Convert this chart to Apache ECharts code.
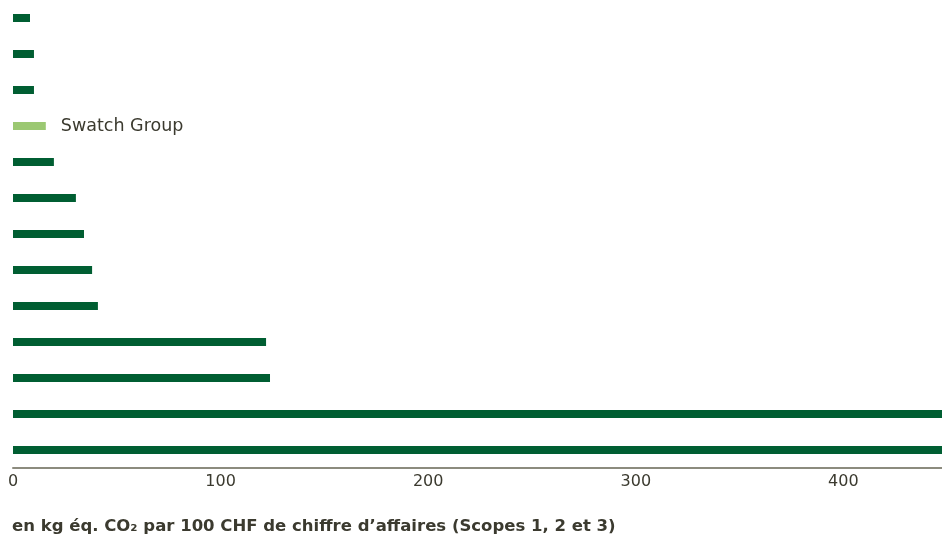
<!DOCTYPE html>
<html>
<head>
<meta charset="utf-8">
<script src="https://cdn.jsdelivr.net/npm/echarts@6/dist/echarts.min.js"></script>
<style>
  html, body { margin: 0; padding: 0; background: #fff; }
  #chart { width: 942px; height: 535px; }
</style>
</head>
<body>
<div id="chart"></div>
<script>
// companies top to bottom, only Swatch Group is labelled in the source
const companies = ['A', 'B', 'C', 'Swatch Group', 'D', 'E', 'F', 'G', 'H', 'I', 'J', 'K', 'L'];
const intensity = [8.2, 10.1, 10.1, 15.8, 19.7, 30.3, 34.2, 38.1, 40.9, 121.9, 123.8, 460, 470];
const highlight = 'Swatch Group';
const xTicks = [0, 100, 200, 300, 400];

const darkGreen = '#005e32';
const lightGreen = '#9bc872';
const textColor = '#3b3a2f';
const font = 'DejaVu Sans';

const chart = echarts.init(document.getElementById('chart'));

chart.setOption({
    animation: false,
    title: {
        text: 'en kg éq. CO₂ par 100 CHF de chiffre d’affaires (Scopes 1, 2 et 3)',
        left: 12,
        top: 518,
        padding: 0,
        textStyle: {
            fontFamily: font,
            fontSize: 16.5,
            fontWeight: 'bold',
            color: textColor
        }
    },
    grid: {
        left: 13,
        right: 0,
        top: -3,
        bottom: 67
    },
    xAxis: {
        type: 'value',
        min: 0,
        max: 447.5,
        interval: 100,
        axisLine: { show: true, lineStyle: { color: '#8c8b7e', width: 2 } },
        axisTick: { show: false },
        splitLine: { show: false },
        axisLabel: {
            margin: 6,
            fontFamily: font,
            fontSize: 16,
            color: textColor,
            showMaxLabel: false,
            formatter: v => xTicks.includes(v) ? String(v) : ''
        }
    },
    yAxis: {
        type: 'category',
        inverse: true,
        data: companies,
        show: false
    },
    series: [{
        type: 'bar',
        barWidth: 8,
        clip: true,
        data: intensity.map((v, i) => {
            const isHl = companies[i] === highlight;
            return {
                value: v,
                itemStyle: { color: isHl ? lightGreen : darkGreen },
                label: isHl ? {
                    show: true,
                    position: 'right',
                    distance: 15,
                    formatter: '{b}',
                    fontFamily: font,
                    fontSize: 17.5,
                    color: textColor
                } : { show: false }
            };
        })
    }]
});
</script>
</body>
</html>
